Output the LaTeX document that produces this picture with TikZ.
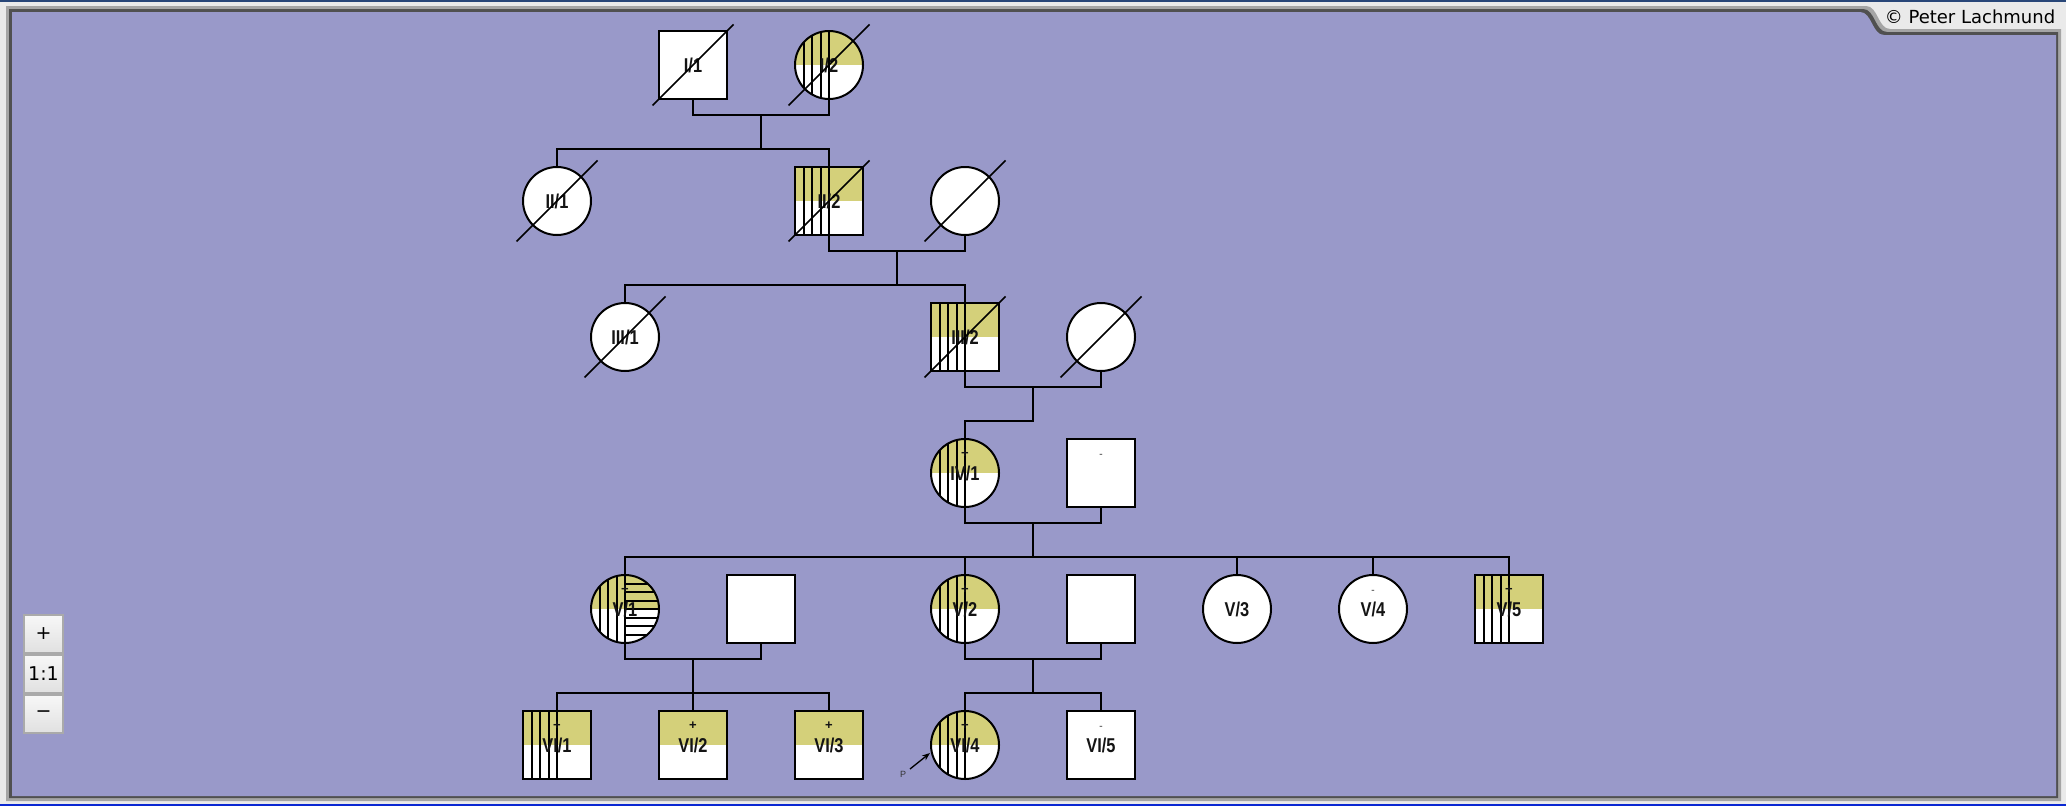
\documentclass[tikz,border=0pt]{standalone}
\usepackage{graphicx}
\usepackage{fontspec}
\setmainfont{Liberation Sans}
\newfontfamily\uifont{DejaVu Sans}
\usetikzlibrary{arrows.meta}
\definecolor{bgpurple}{RGB}{153,153,201}
\definecolor{affyel}{RGB}{212,208,122}
\definecolor{framedark}{RGB}{80,80,80}
\definecolor{framemid}{RGB}{165,165,165}
\definecolor{framelight}{RGB}{234,234,234}
\definecolor{topblue}{RGB}{40,70,120}
\definecolor{botblue}{RGB}{10,40,210}
\definecolor{btnborder}{RGB}{170,170,170}
\definecolor{labtext}{RGB}{20,20,20}
\newcommand{\labfont}{\fontsize{20}{20}\selectfont\bfseries}
\newcommand{\lb}[1]{\scalebox{0.82}[1]{#1}}
\newcommand{\clipshape}[3]{\if m#1\clip (#2-34,#3-34) rectangle (#2+34,#3+34);\else\clip (#2,#3) circle[radius=34];\fi}
\newcommand{\bgfill}[3]{\if m#1\fill[white] (#2-34,#3-34) rectangle (#2+34,#3+34);\else\fill[white] (#2,#3) circle[radius=34];\fi}
\newcommand{\yel}[3]{\begin{scope}\clipshape{#1}{#2}{#3}\fill[affyel] (#2-36,#3-36) rectangle (#2+36,#3);\end{scope}}
\newcommand{\vh}[3]{\begin{scope}\clipshape{#1}{#2}{#3}\foreach \k in {1,2,3,4}{\draw[hatchline] (#2-34+8.5*\k,#3-36) -- (#2-34+8.5*\k,#3+36);}\end{scope}}
\newcommand{\hh}[3]{\begin{scope}\clipshape{#1}{#2}{#3}\foreach \k in {1,...,7}{\draw[hatchline] (#2,#3-34+8.5*\k) -- (#2+36,#3-34+8.5*\k);}\end{scope}}
\newcommand{\dead}[1]{\draw[slashline] ([shift={(-40.5,40.5)}]#1.center) -- ([shift={(40.5,-40.5)}]#1.center);}
\newcommand{\plusmark}[1]{\node[plusm] (#1-plus) at ([yshift=19pt]#1.center) {+};}
\newcommand{\negmark}[1]{\node[negm] (#1-neg) at ([yshift=17.5pt]#1.center) {-};}
\newcommand{\framepath}[2]{(12-#1,12-#1) -- (1860+#1,12-#1) .. controls (1872+#1,12-#1) and (1872+#1,35-#1) .. (1884+#1,35-#1) -- (2056+#2,35-#1) -- (2056+#2,796+#2) -- (12-#1,796+#2) -- cycle}
\begin{document}
\begin{tikzpicture}[x=1pt,y=-1pt,
  person/.style={draw=black, line width=2pt, inner sep=0pt, minimum size=68pt, font=\labfont, text=labtext},
  male/.style={person, rectangle},
  female/.style={person, circle},
  conn/.style={draw=black, line width=2pt},
  hatchline/.style={draw=black, line width=2pt},
  slashline/.style={draw=black, line width=1.6pt},
  plusm/.style={inner sep=0pt, font=\fontsize{13}{13}\selectfont\bfseries, text=labtext},
  negm/.style={inner sep=0pt, font=\fontsize{10}{10}\selectfont\bfseries, text=black!55},
  zbtn/.style={draw=btnborder, line width=2pt, top color=white!97!black, bottom color=white!88!black, minimum width=39pt, minimum height=38pt, inner sep=0pt, font=\uifont\fontsize{19}{19}\selectfont},
  pmark/.style={inner sep=0pt, font=\fontsize{9}{9}\selectfont, text=black!80}]
\useasboundingbox (0,0) rectangle (2066,806);
% window frame
\fill[framelight] (0,0) rectangle (2066,806);
\fill[topblue] (0,0) rectangle (2066,2);
\fill[botblue] (0,803.5) rectangle (2066,806);
\fill[framemid] \framepath{6}{5};
\fill[framedark] \framepath{3}{2};
\fill[bgpurple] \framepath{0}{0};
\node[font=\uifont\fontsize{18}{18}\selectfont, inner sep=0pt] (copyright) at (1970,17) {© Peter Lachmund};
% zoom buttons
\node[zbtn] (zin) at (43.5,634) {+};
\node[zbtn] (zone) at (43.5,674) {1:1};
\node[zbtn] (zout) at (43.5,714) {−};
% generation I
\bgfill{m}{693}{65}
\node[male] (I1) at (693,65) {\lb{I/1}}; \dead{I1}
\bgfill{f}{829}{65}\yel{f}{829}{65}\vh{f}{829}{65}
\node[female] (I2) at (829,65) {\lb{I/2}}; \dead{I2}
% generation II
\bgfill{f}{557}{201}
\node[female] (II1) at (557,201) {\lb{II/1}}; \dead{II1}
\bgfill{m}{829}{201}\yel{m}{829}{201}\vh{m}{829}{201}
\node[male] (II2) at (829,201) {\lb{II/2}}; \dead{II2}
\bgfill{f}{965}{201}
\node[female] (IIs) at (965,201) {}; \dead{IIs}
% generation III
\bgfill{f}{625}{337}
\node[female] (III1) at (625,337) {\lb{III/1}}; \dead{III1}
\bgfill{m}{965}{337}\yel{m}{965}{337}\vh{m}{965}{337}
\node[male] (III2) at (965,337) {\lb{III/2}}; \dead{III2}
\bgfill{f}{1101}{337}
\node[female] (IIIs) at (1101,337) {}; \dead{IIIs}
% generation IV
\bgfill{f}{965}{473}\yel{f}{965}{473}\vh{f}{965}{473}
\node[female] (IV1) at (965,473) {\lb{IV/1}}; \plusmark{IV1}
\bgfill{m}{1101}{473}
\node[male] (IVs) at (1101,473) {}; \negmark{IVs}
% generation V
\bgfill{f}{625}{609}\yel{f}{625}{609}\vh{f}{625}{609}\hh{f}{625}{609}
\node[female] (V1) at (625,609) {\lb{V/1}}; \plusmark{V1}
\bgfill{m}{761}{609}
\node[male] (V1s) at (761,609) {};
\bgfill{f}{965}{609}\yel{f}{965}{609}\vh{f}{965}{609}
\node[female] (V2) at (965,609) {\lb{V/2}}; \plusmark{V2}
\bgfill{m}{1101}{609}
\node[male] (V2s) at (1101,609) {};
\bgfill{f}{1237}{609}
\node[female] (V3) at (1237,609) {\lb{V/3}};
\bgfill{f}{1373}{609}
\node[female] (V4) at (1373,609) {\lb{V/4}}; \negmark{V4}
\bgfill{m}{1509}{609}\yel{m}{1509}{609}\vh{m}{1509}{609}
\node[male] (V5) at (1509,609) {\lb{V/5}}; \plusmark{V5}
% generation VI
\bgfill{m}{557}{745}\yel{m}{557}{745}\vh{m}{557}{745}
\node[male] (VI1) at (557,745) {\lb{VI/1}}; \plusmark{VI1}
\bgfill{m}{693}{745}\yel{m}{693}{745}
\node[male] (VI2) at (693,745) {\lb{VI/2}}; \plusmark{VI2}
\bgfill{m}{829}{745}\yel{m}{829}{745}
\node[male] (VI3) at (829,745) {\lb{VI/3}}; \plusmark{VI3}
\bgfill{f}{965}{745}\yel{f}{965}{745}\vh{f}{965}{745}
\node[female] (VI4) at (965,745) {\lb{VI/4}}; \plusmark{VI4}
\bgfill{m}{1101}{745}
\node[male] (VI5) at (1101,745) {\lb{VI/5}}; \negmark{VI5}
% connectors
\coordinate (m1) at (761,115); \coordinate (s1) at (761,149);
\draw[conn] (I1.south) |- (m1) -| (I2.south);
\draw[conn] (m1) -- (s1);
\draw[conn] (II1.north) |- (s1) -| (II2.north);
\coordinate (m2) at (897,251); \coordinate (s2) at (897,285);
\draw[conn] (II2.south) |- (m2) -| (IIs.south);
\draw[conn] (m2) -- (s2);
\draw[conn] (III1.north) |- (s2) -| (III2.north);
\coordinate (m3) at (1033,387); \coordinate (s3) at (1033,421);
\draw[conn] (III2.south) |- (m3) -| (IIIs.south);
\draw[conn] (m3) -- (s3) -| (IV1.north);
\coordinate (m4) at (1033,523); \coordinate (s4) at (1033,557);
\draw[conn] (IV1.south) |- (m4) -| (IVs.south);
\draw[conn] (m4) -- (s4);
\draw[conn] (V1.north) |- (s4) -| (V5.north);
\draw[conn] (V2.north) -- (V2.north |- s4);
\draw[conn] (V3.north) -- (V3.north |- s4);
\draw[conn] (V4.north) -- (V4.north |- s4);
\coordinate (m5a) at (693,659); \coordinate (s5a) at (693,693);
\draw[conn] (V1.south) |- (m5a) -| (V1s.south);
\draw[conn] (m5a) -- (VI2.north);
\draw[conn] (VI1.north) |- (s5a) -| (VI3.north);
\coordinate (m5b) at (1033,659); \coordinate (s5b) at (1033,693);
\draw[conn] (V2.south) |- (m5b) -| (V2s.south);
\draw[conn] (m5b) -- (s5b);
\draw[conn] (VI4.north) |- (s5b) -| (VI5.north);
% proband
\node[pmark] (P) at (903,774) {P};
\coordinate (ptail) at (910,769); \coordinate (phead) at (930,753);
\draw[line width=1.3pt, -{Stealth[length=8pt,width=6pt]}] (ptail) -- (phead);
\end{tikzpicture}
\end{document}
